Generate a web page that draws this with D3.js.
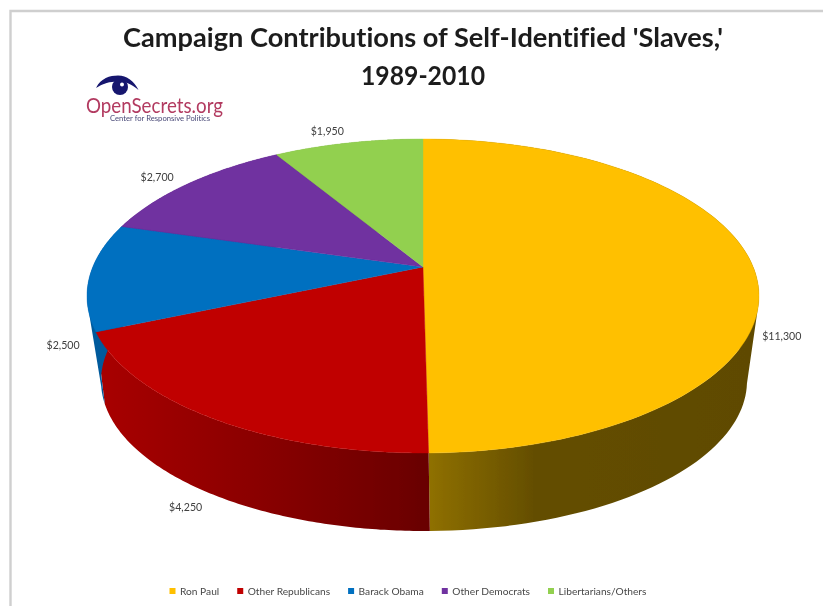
<!DOCTYPE html>
<html>
<head>
<meta charset="utf-8">
<script src="https://cdnjs.cloudflare.com/ajax/libs/d3/7.8.5/d3.min.js"></script>
<style>
html,body{margin:0;padding:0;background:#fff;overflow:hidden}
text{font-family:Lato,"Open Sans",sans-serif;font-variant-ligatures:none}
</style>
</head>
<body>
<svg id="chart" width="823" height="606"></svg>
<script>
const categories = ["Ron Paul","Other Republicans","Barack Obama","Other Democrats","Libertarians/Others"];
const amounts = [11300,4250,2500,2700,1950];
const amountLabels = ["$11,300","$4,250","$2,500","$2,700","$1,950"];
const topColors = ["#FFC000","#C00000","#0070C0","#7030A0","#92D050"];
const titleLines = ["Campaign Contributions of Self-Identified 'Slaves,'","1989-2010"];

const svg = d3.select("#chart");
const defs = svg.append("defs");
defs.append("filter").attr("id","soft").attr("x","-2%").attr("y","-2%").attr("width","104%").attr("height","104%")
  .append("feGaussianBlur").attr("stdDeviation",0.6);
const root = svg.append("g").attr("filter","url(#soft)");

// frame
root.append("path").attr("d","M10.5 606V11H823").attr("fill","none").attr("stroke","#cfcfcf").attr("stroke-width",2.4);

// title
const titleWidths = [600,124];
root.append("g").selectAll("text").data(titleLines).join("text")
  .attr("x",423).attr("y",(d,i)=>46.5+i*38).attr("text-anchor","middle")
  .attr("font-size",26.6).attr("font-weight",700).attr("fill","#1c1c1c")
  .attr("textLength",(d,i)=>titleWidths[i]).attr("lengthAdjust","spacingAndGlyphs").text(d=>d);

// projection: perspective view of a disc, centre of disc falls above the ellipse centre
const topX = d3.scaleLinear().domain([-1,1]).range([87,759]);
const topY = d3.scaleLinear().domain([-1,1]).range([139,453]);
const botX = d3.scaleLinear().domain([-1,1]).range([101,747]);
const botY = d3.scaleLinear().domain([-1,1]).range([231,531]);
const topShift = -0.185, botShift = -0.26;
function project(theta, r, xs, ys, t){
  const u = r*Math.sin(theta), v = -r*Math.cos(theta), k = 1+t*v;
  return [xs(u*Math.sqrt(1-t*t)/k), ys((v+t)/k)];
}
const onTop = (a,r=1)=>project(a,r,topX,topY,topShift);
const onBot = a=>project(a,1,botX,botY,botShift);
const slices = d3.pie().sort(null)(amounts);
const line = d3.line();
const steps = (a,b)=>d3.range(0,121).map(i=>a+(b-a)*i/120);

// side wall gradients
const sideStops = [
  [[0,"#8f7000"],[0.33,"#644e00"],[1,"#5f4a00"]],
  [[0,"#a80000"],[1,"#690000"]],
  [[0,"#005a9c"],[1,"#005a9c"]],
  [[0,"#5a2680"],[1,"#5a2680"]],
  [[0,"#75a640"],[1,"#75a640"]]
];
const sideRange = [[429,748],[100,429],[85,130],[85,130],[85,130]];
slices.forEach((s,i)=>{
  const g = defs.append("linearGradient").attr("id","side"+i).attr("gradientUnits","userSpaceOnUse")
    .attr("x1",sideRange[i][0]).attr("x2",sideRange[i][1]).attr("y1",0).attr("y2",0);
  g.selectAll("stop").data(sideStops[i]).join("stop").attr("offset",d=>d[0]).attr("stop-color",d=>d[1]);
});
// walls: one quad per angular step, all wound the same way so overlaps do not cancel
function quad(a,b){
  const q = [onTop(a),onTop(b),onBot(b),onBot(a)];
  if (d3.polygonArea(q) < 0) q.reverse();
  return line(q)+"Z";
}
root.append("g").selectAll("path").data(slices).join("path")
  .attr("fill",(d,i)=>`url(#side${i})`)
  .attr("d",d=>d3.pairs(steps(d.startAngle,d.endAngle)).map(([a,b])=>quad(a,b)).join(""));
// top faces
root.append("g").selectAll("path").data(slices).join("path")
  .attr("fill",(d,i)=>topColors[i]).attr("stroke",(d,i)=>topColors[i]).attr("stroke-width",0.4)
  .attr("d",d=>line([onTop(0,0),...steps(d.startAngle,d.endAngle).map(a=>onTop(a))])+"Z");

// data labels, hung off the rim at mid-slice
const labelNudge = [[29,70],[-25,90],[-26.5,69],[-31,-6],[-21,-12]];
root.append("g").selectAll("text").data(slices).join("text")
  .attr("x",(d,i)=>onTop((d.startAngle+d.endAngle)/2)[0]+labelNudge[i][0])
  .attr("y",(d,i)=>onTop((d.startAngle+d.endAngle)/2)[1]+labelNudge[i][1]+3.6)
  .attr("text-anchor","middle").attr("font-size",10.6).attr("fill","#404040")
  .text((d,i)=>amountLabels[i]);

// legend
const legend = root.append("g");
let lx = 169.5;
categories.forEach((c,i)=>{
  legend.append("rect").attr("x",lx).attr("y",588).attr("width",6).attr("height",6).attr("fill",topColors[i]);
  const t = legend.append("text").attr("x",lx+10.5).attr("y",594.5).attr("font-size",10.2).attr("fill","#484848").text(c);
  lx += 10.5 + t.node().getComputedTextLength() + 18;
});

// logo
const logo = root.append("g");
logo.append("path").attr("fill","#14146e")
  .attr("d","M96 88C101 78 110 75.5 118 75.5C127 75.5 134 81 138.5 90C132 84 125 81.5 118 81.5C110 81.5 103 83.5 96 88Z");
logo.append("circle").attr("cx",120).attr("cy",87).attr("r",8).attr("fill","#14146e");
logo.append("circle").attr("cx",122).attr("cy",84.5).attr("r",2).attr("fill","#ffffff");
logo.append("text").attr("x",86).attr("y",112.5).attr("font-size",21.6).attr("fill","#b23a60").attr("textLength",137).attr("lengthAdjust","spacingAndGlyphs").text("OpenSecrets.org");
logo.append("text").attr("x",110).attr("y",121).attr("font-size",6.8).attr("fill","#4a4a78").attr("textLength",100).attr("lengthAdjust","spacingAndGlyphs").text("Center for Responsive Politics");
</script>
</body>
</html>
